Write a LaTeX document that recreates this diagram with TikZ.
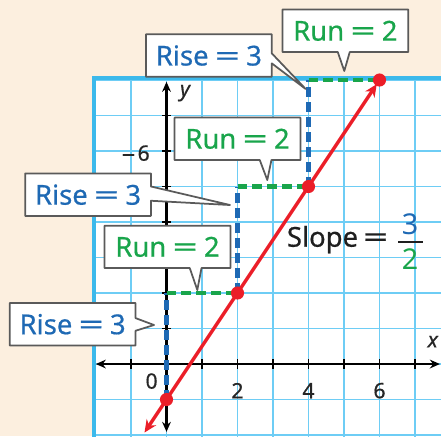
\documentclass[tikz,border=0pt]{standalone}
\usepackage{fontspec}
\setmainfont{Noto Sans}
\usepackage{graphicx}
\usetikzlibrary{arrows.meta,calc}
\definecolor{cream}{RGB}{252,239,223}
\definecolor{gridc}{RGB}{110,205,245}
\definecolor{bordc}{RGB}{60,185,235}
\definecolor{myblue}{RGB}{30,105,180}
\definecolor{mygreen}{RGB}{25,165,75}
\definecolor{myred}{RGB}{235,30,40}
\definecolor{boxgray}{RGB}{90,90,90}
\newcommand\weq{\scalebox{1.6}[1]{=}}
\pgfdeclarelayer{front}
\pgfsetlayers{main,front}
\begin{document}
\begin{tikzpicture}[
  gridline/.style={gridc, line width=1.4pt},
  axis/.style={black, line width=1.8pt},
  risedash/.style={myblue, line width=3.6pt, dash pattern=on 8pt off 4pt},
  rundash/.style={mygreen, line width=3.6pt, dash pattern=on 8pt off 4pt},
  redline/.style={myred, line width=2.7pt},
  cbox/.style={draw=boxgray, fill=white, line width=1.4pt, line join=round},
  ctext/.style={minimum width=3.53cm, minimum height=1.18cm, inner sep=0pt, font=\fontsize{22}{26}\selectfont\addfontfeature{FakeBold=0.6}},
  lbl/.style={font=\fontsize{17}{20}\selectfont\addfontfeature{FakeBold=0.6}, inner sep=1pt, text=black!85},
  ilbl/.style={font=\fontsize{17}{20}\selectfont\itshape\addfontfeature{FakeBold=0.6}, inner sep=1pt, text=black!85},
]
\useasboundingbox (-4.69,-2.028) rectangle (7.732,10.254);
\clip (-4.69,-2.028) rectangle (7.732,10.254);
\fill[cream] (-4.69,-2.028) rectangle (7.732,10.254);
\fill[white] (-2,-2.2) rectangle (8,8);
\draw[gridline] (-2,-2.2) grid (8,8);
\draw[bordc, line width=3pt] (-2.05,-2.2) -- (-2.05,8.058) -- (8,8.058);

% axes
\coordinate (xl) at (-1.99,0);
\coordinate (xr) at (7.70,0);
\coordinate (yb) at (0,-1.91);
\coordinate (yt) at (0,7.95);
\draw[axis, {Stealth[length=8pt,width=7pt]}-{Stealth[length=8pt,width=7pt]}] (xl) -- (xr);
\draw[axis, {Stealth[length=8pt,width=7pt]}-{Stealth[length=8pt,width=7pt]}] (yb) -- (yt);
\foreach \x in {-1,1,2,3,4,5,6,7} \draw[axis, line width=1.4pt] (\x,-0.13) -- (\x,0.13);
\foreach \y in {-1,1,2,3,4,5,6,7} \draw[axis, line width=1.4pt] (-0.13,\y) -- (0.13,\y);

\node[lbl] (l0) at (-0.42,-0.48) {0};
\node[lbl] (l2) at (2,-0.75) {2};
\node[lbl] (l4) at (4,-0.75) {4};
\node[lbl] (l6) at (6,-0.75) {6};
\node[lbl, anchor=east] (l6y) at (-0.43,5.94) {\scalebox{1.25}[1]{–}\hspace{2pt}6};
\node[ilbl] (lx) at (7.5,0.63) {x};
\node[ilbl] (ly) at (0.52,7.63) {y};

% rise / run
\coordinate (a0) at (0,-1);
\coordinate (c1) at (0,2);
\coordinate (a1) at (2,2);
\coordinate (c2) at (2,5);
\coordinate (a2) at (4,5);
\coordinate (c3) at (4,8);
\coordinate (a3) at (6,8);
\draw[risedash] (a0) -- (c1);
\draw[risedash] (a1) -- (c2);
\draw[risedash] (a2) -- (c3);
\draw[rundash] (c1) -- (a1);
\draw[rundash] (c2) -- (a2);
\draw[rundash] (c3) -- (a3);

% line
\coordinate (rb) at (-0.62,-1.93);
\draw[redline, {Stealth[length=10pt,width=9pt]}-{Stealth[length=10pt,width=9pt]}, shorten >=0.14cm] (rb) -- (a3);
\foreach \p in {a0,a1,a2,a3} \fill[myred] (\p) circle (0.185);

% slope
\node[font=\fontsize{22}{26}\selectfont\addfontfeature{FakeBold=0.6}, anchor=base west, inner sep=0pt, text=black!88] (slope) at (3.386,3.304) {Slope\hspace{4pt}\weq};
\node[font=\fontsize{23}{26}\selectfont\bfseries, text=myblue, inner sep=0pt] (num) at (6.86,3.94) {3};
\node[font=\fontsize{23}{26}\selectfont\bfseries, text=mygreen, inner sep=0pt] (den) at (6.86,2.958) {2};
\coordinate (fl) at (6.53,3.445);
\coordinate (fr) at (7.23,3.445);
\draw[black!88, line width=1.8pt] (fl) -- (fr);

% callout texts
\begin{pgfonlayer}{front}
\node[ctext, text=myblue] (r1) at (1.193,8.69) {Rise\hspace{5pt}\weq\hspace{5pt}3};
\node[ctext, text=mygreen] (n1) at (5.038,9.386) {Run\hspace{5pt}\weq\hspace{5pt}2};
\node[ctext, text=mygreen] (n2) at (2.0,6.344) {Run\hspace{5pt}\weq\hspace{5pt}2};
\node[ctext, text=myblue] (r2) at (-2.21,4.77) {Rise\hspace{5pt}\weq\hspace{5pt}3};
\node[ctext, text=mygreen] (n3) at (0.028,3.30) {Run\hspace{5pt}\weq\hspace{5pt}2};
\node[ctext, text=myblue] (r3) at (-2.644,1.122) {Rise\hspace{5pt}\weq\hspace{5pt}3};
\end{pgfonlayer}

\coordinate (t1) at (3.921,7.746);
\coordinate (t2) at (5.008,8.254);
\coordinate (t3) at (2.839,5.183);
\coordinate (t4) at (1.789,4.479);
\coordinate (t5) at (0.868,2.085);
\coordinate (t6) at (-0.352,1.099);

\draw[cbox] (r1.north west) -- (r1.north east) -- ([yshift=-0.535cm]r1.north east) -- (t1) -- ([yshift=-0.817cm]r1.north east) -- (r1.south east) -- (r1.south west) -- cycle;
\draw[cbox] (n1.north west) -- (n1.north east) -- (n1.south east) -- ([xshift=1.896cm]n1.south west) -- (t2) -- ([xshift=1.558cm]n1.south west) -- (n1.south west) -- cycle;
\draw[cbox] (n2.north west) -- (n2.north east) -- (n2.south east) -- ([xshift=2.728cm]n2.south west) -- (t3) -- ([xshift=2.399cm]n2.south west) -- (n2.south west) -- cycle;
\draw[cbox] (r2.north west) -- (r2.north east) -- ([yshift=-0.366cm]r2.north east) -- (t4) -- ([yshift=-0.768cm]r2.north east) -- (r2.south east) -- (r2.south west) -- cycle;
\draw[cbox] (n3.north west) -- (n3.north east) -- (n3.south east) -- ([xshift=2.729cm]n3.south west) -- (t5) -- ([xshift=2.399cm]n3.south west) -- (n3.south west) -- cycle;
\draw[cbox] (r3.north west) -- (r3.north east) -- ([yshift=-0.425cm]r3.north east) -- (t6) -- ([yshift=-0.782cm]r3.north east) -- (r3.south east) -- (r3.south west) -- cycle;
\end{tikzpicture}
\end{document}
